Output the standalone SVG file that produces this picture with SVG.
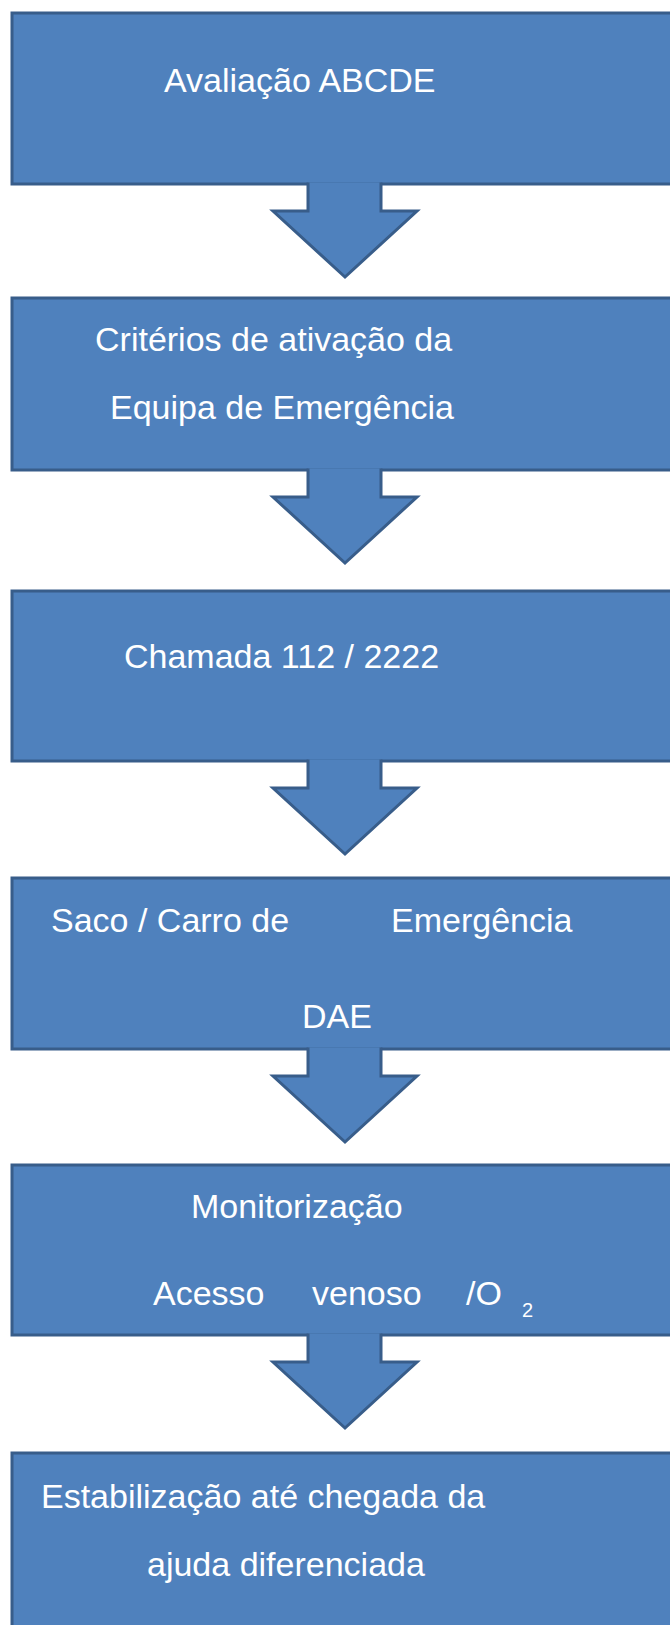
<svg xmlns="http://www.w3.org/2000/svg" width="670" height="1625" viewBox="0 0 670 1625">
<defs>
<style>
.box{fill:#4F81BD;stroke:#385D8A;stroke-width:3;}
.arr{fill:#4F81BD;stroke:#385D8A;stroke-width:3;stroke-linejoin:miter;}
.t{font-family:"Liberation Sans",Arial,sans-serif;font-size:34px;fill:#FFFFFF;}
.sub{font-family:"Liberation Sans",Arial,sans-serif;font-size:20px;fill:#FFFFFF;}
</style>
</defs>
<rect width="670" height="1625" fill="#FFFFFF"/>
<g id="node1">
<rect class="box" x="12" y="13" width="700" height="171"/>
<text class="t" x="164" y="92">Avaliação ABCDE</text>
</g>
<g id="node2">
<rect class="box" x="12" y="298" width="700" height="172"/>
<text class="t" x="95" y="351">Critérios de ativação da</text>
<text class="t" x="110" y="419">Equipa de Emergência</text>
</g>
<g id="node3">
<rect class="box" x="12" y="591" width="700" height="170"/>
<text class="t" x="124" y="668">Chamada 112 / 2222</text>
</g>
<g id="node4">
<rect class="box" x="12" y="878" width="700" height="171"/>
<text class="t" x="51" y="932">Saco / Carro de</text>
<text class="t" x="391" y="932">Emergência</text>
<text class="t" x="302" y="1028">DAE</text>
</g>
<g id="node5">
<rect class="box" x="12" y="1165" width="700" height="170"/>
<text class="t" x="191" y="1218">Monitorização</text>
<text class="t" x="153" y="1305">Acesso</text>
<text class="t" x="312" y="1305">venoso</text>
<text class="t" x="466" y="1305">/O</text>
<text class="sub" x="522" y="1317">2</text>
</g>
<g id="node6">
<rect class="box" x="12" y="1453" width="700" height="200"/>
<text class="t" x="41" y="1508">Estabilização até chegada da</text>
<text class="t" x="147" y="1576">ajuda diferenciada</text>
</g>
<g id="connectors">
<path class="arr" d="M308,182.5 L308,211 L273,211 L345,277 L417,211 L381,211 L381,182.5"/>
<path class="arr" d="M308,468.5 L308,497 L273,497 L345,563 L417,497 L381,497 L381,468.5"/>
<path class="arr" d="M308,759.5 L308,788 L273,788 L345,854 L417,788 L381,788 L381,759.5"/>
<path class="arr" d="M308,1047.5 L308,1076 L273,1076 L345,1142 L417,1076 L381,1076 L381,1047.5"/>
<path class="arr" d="M308,1333.5 L308,1362 L273,1362 L345,1428 L417,1362 L381,1362 L381,1333.5"/>
</g>
</svg>
